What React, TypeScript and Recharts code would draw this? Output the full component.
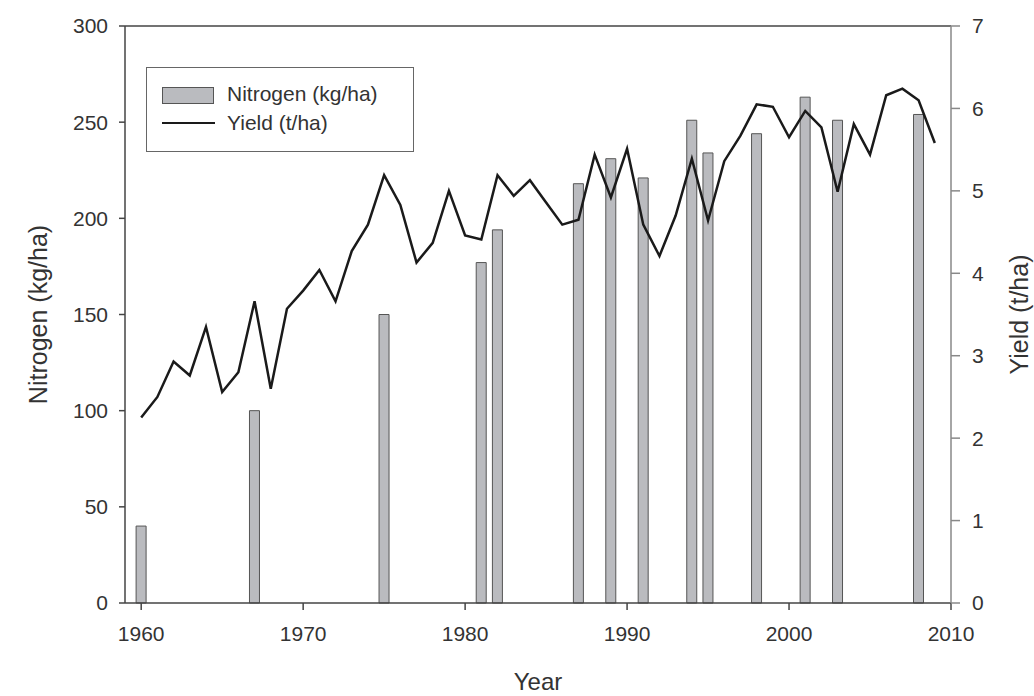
import { ComposedChart, Bar, Line, XAxis, YAxis, ReferenceLine, Legend, Label } from "recharts";

const years = [
  1960, 1961, 1962, 1963, 1964, 1965, 1966, 1967, 1968, 1969,
  1970, 1971, 1972, 1973, 1974, 1975, 1976, 1977, 1978, 1979,
  1980, 1981, 1982, 1983, 1984, 1985, 1986, 1987, 1988, 1989,
  1990, 1991, 1992, 1993, 1994, 1995, 1996, 1997, 1998, 1999,
  2000, 2001, 2002, 2003, 2004, 2005, 2006, 2007, 2008, 2009,
];

// yield, t/ha, one value per year
const yieldValues = [
  2.25, 2.5, 2.93, 2.76, 3.35, 2.56, 2.8, 3.66, 2.6, 3.57,
  3.79, 4.04, 3.66, 4.27, 4.59, 5.19, 4.83, 4.13, 4.37, 5.0,
  4.46, 4.41, 5.19, 4.94, 5.13, 4.86, 4.59, 4.65, 5.44, 4.92,
  5.51, 4.59, 4.21, 4.7, 5.39, 4.64, 5.36, 5.67, 6.05, 6.02,
  5.65, 5.97, 5.77, 4.99, 5.81, 5.44, 6.16, 6.24, 6.1, 5.58,
];

// nitrogen rate, kg/ha, only for sampled years
const nitrogenYears = [1960, 1967, 1975, 1981, 1982, 1987, 1989, 1991, 1994, 1995, 1998, 2001, 2003, 2008];
const nitrogenValues = [40, 100, 150, 177, 194, 218, 231, 221, 251, 234, 244, 263, 251, 254];

const xTicks = [1960, 1970, 1980, 1990, 2000, 2010];
const nTicks = [0, 50, 100, 150, 200, 250, 300];
const yTicks = [0, 1, 2, 3, 4, 5, 6, 7];

const data = years.map((year, i) => {
  const k = nitrogenYears.indexOf(year);
  return { year, yield: yieldValues[i], nitrogen: k >= 0 ? nitrogenValues[k] : null };
});

const FONT = "'Liberation Sans', Arial, sans-serif";
const TEXT = "#333";
const BAR_FILL = "#babbbf";
const BAR_STROKE = "#555";

const tickStyle = { fill: TEXT, fontSize: 21, fontFamily: FONT };

function LegendBox() {
  return (
    <div
      style={{
        width: 268,
        height: 85,
        border: "1.5px solid #666",
        background: "#fff",
        fontFamily: FONT,
        fontSize: 21,
        color: TEXT,
        position: "relative",
        boxSizing: "border-box",
      }}
    >
      <div style={{ position: "absolute", left: 15, top: 19, width: 52, height: 17, background: BAR_FILL, border: `1px solid ${BAR_STROKE}`, boxSizing: "border-box" }} />
      <div style={{ position: "absolute", left: 80, top: 14, lineHeight: "24px" }}>Nitrogen (kg/ha)</div>
      <div style={{ position: "absolute", left: 15, top: 54, width: 53, height: 2, background: "#1a1a1a" }} />
      <div style={{ position: "absolute", left: 80, top: 43, lineHeight: "24px" }}>Yield (t/ha)</div>
    </div>
  );
}

export default function App() {
  return (
    <div style={{ position: "absolute", left: 0, top: 0, background: "#fff" }}>
      <ComposedChart
        width={1034}
        height={696}
        data={data}
        margin={{ top: 26, right: 0, bottom: 43, left: 0 }}
      >
        <XAxis
          dataKey="year"
          type="number"
          domain={[1959, 2010]}
          ticks={xTicks}
          allowDataOverflow
          height={50}
          tick={tickStyle}
          tickSize={7}
          tickMargin={16}
          axisLine={{ stroke: "#444", strokeWidth: 1.5 }}
          tickLine={{ stroke: "#444", strokeWidth: 1.5 }}
        >
          <Label
            content={({ viewBox }: any) => (
              <text
                x={viewBox.x + viewBox.width / 2}
                y={viewBox.y + 78}
                textAnchor="middle"
                dominantBaseline="central"
                fill={TEXT}
                fontSize={24}
                fontFamily={FONT}
              >
                Year
              </text>
            )}
          />
        </XAxis>
        {/* spacer so the left axis sits a little away from the plot */}
        <YAxis yAxisId="pad" orientation="left" width={12} domain={[0, 1]} axisLine={false} tick={false} tickLine={false} />
        <YAxis
          yAxisId="n"
          orientation="left"
          width={113}
          domain={[0, 300]}
          ticks={nTicks}
          tick={tickStyle}
          tickSize={6}
          tickMargin={11}
          axisLine={{ stroke: "#444", strokeWidth: 1.5 }}
          tickLine={{ stroke: "#444", strokeWidth: 1.5 }}
        >
          <Label
            content={({ viewBox }: any) => {
              const cx = viewBox.x + 26;
              const cy = viewBox.y + viewBox.height / 2;
              return (
                <text
                  x={cx}
                  y={cy}
                  transform={`rotate(-90 ${cx} ${cy})`}
                  textAnchor="middle"
                  dominantBaseline="central"
                  fill={TEXT}
                  fontSize={25}
                  fontFamily={FONT}
                >
                  Nitrogen (kg/ha)
                </text>
              );
            }}
          />
        </YAxis>
        <YAxis
          yAxisId="y"
          orientation="right"
          width={83}
          domain={[0, 7]}
          ticks={yTicks}
          tick={tickStyle}
          tickSize={9}
          tickMargin={12}
          axisLine={{ stroke: "#888", strokeWidth: 1.5 }}
          tickLine={{ stroke: "#888", strokeWidth: 1.5 }}
        >
          <Label
            content={({ viewBox }: any) => {
              const cx = viewBox.x + 68;
              const cy = viewBox.y + viewBox.height / 2;
              return (
                <text
                  x={cx}
                  y={cy}
                  transform={`rotate(-90 ${cx} ${cy})`}
                  textAnchor="middle"
                  dominantBaseline="central"
                  fill={TEXT}
                  fontSize={25}
                  fontFamily={FONT}
                >
                  Yield (t/ha)
                </text>
              );
            }}
          />
        </YAxis>
        <ReferenceLine yAxisId="n" y={300} stroke="#444" strokeWidth={1.5} />
        <Bar
          yAxisId="n"
          dataKey="nitrogen"
          barSize={10}
          fill={BAR_FILL}
          stroke={BAR_STROKE}
          strokeWidth={1}
          isAnimationActive={false}
        />
        <Line
          yAxisId="y"
          dataKey="yield"
          type="linear"
          stroke="#1a1a1a"
          strokeWidth={2.5}
          dot={false}
          isAnimationActive={false}
        />
        <Legend
          layout="vertical"
          align="center"
          verticalAlign="middle"
          wrapperStyle={{ left: 146, top: 67, width: 268, height: 85 }}
          content={() => <LegendBox />}
        />
      </ComposedChart>
    </div>
  );
}
